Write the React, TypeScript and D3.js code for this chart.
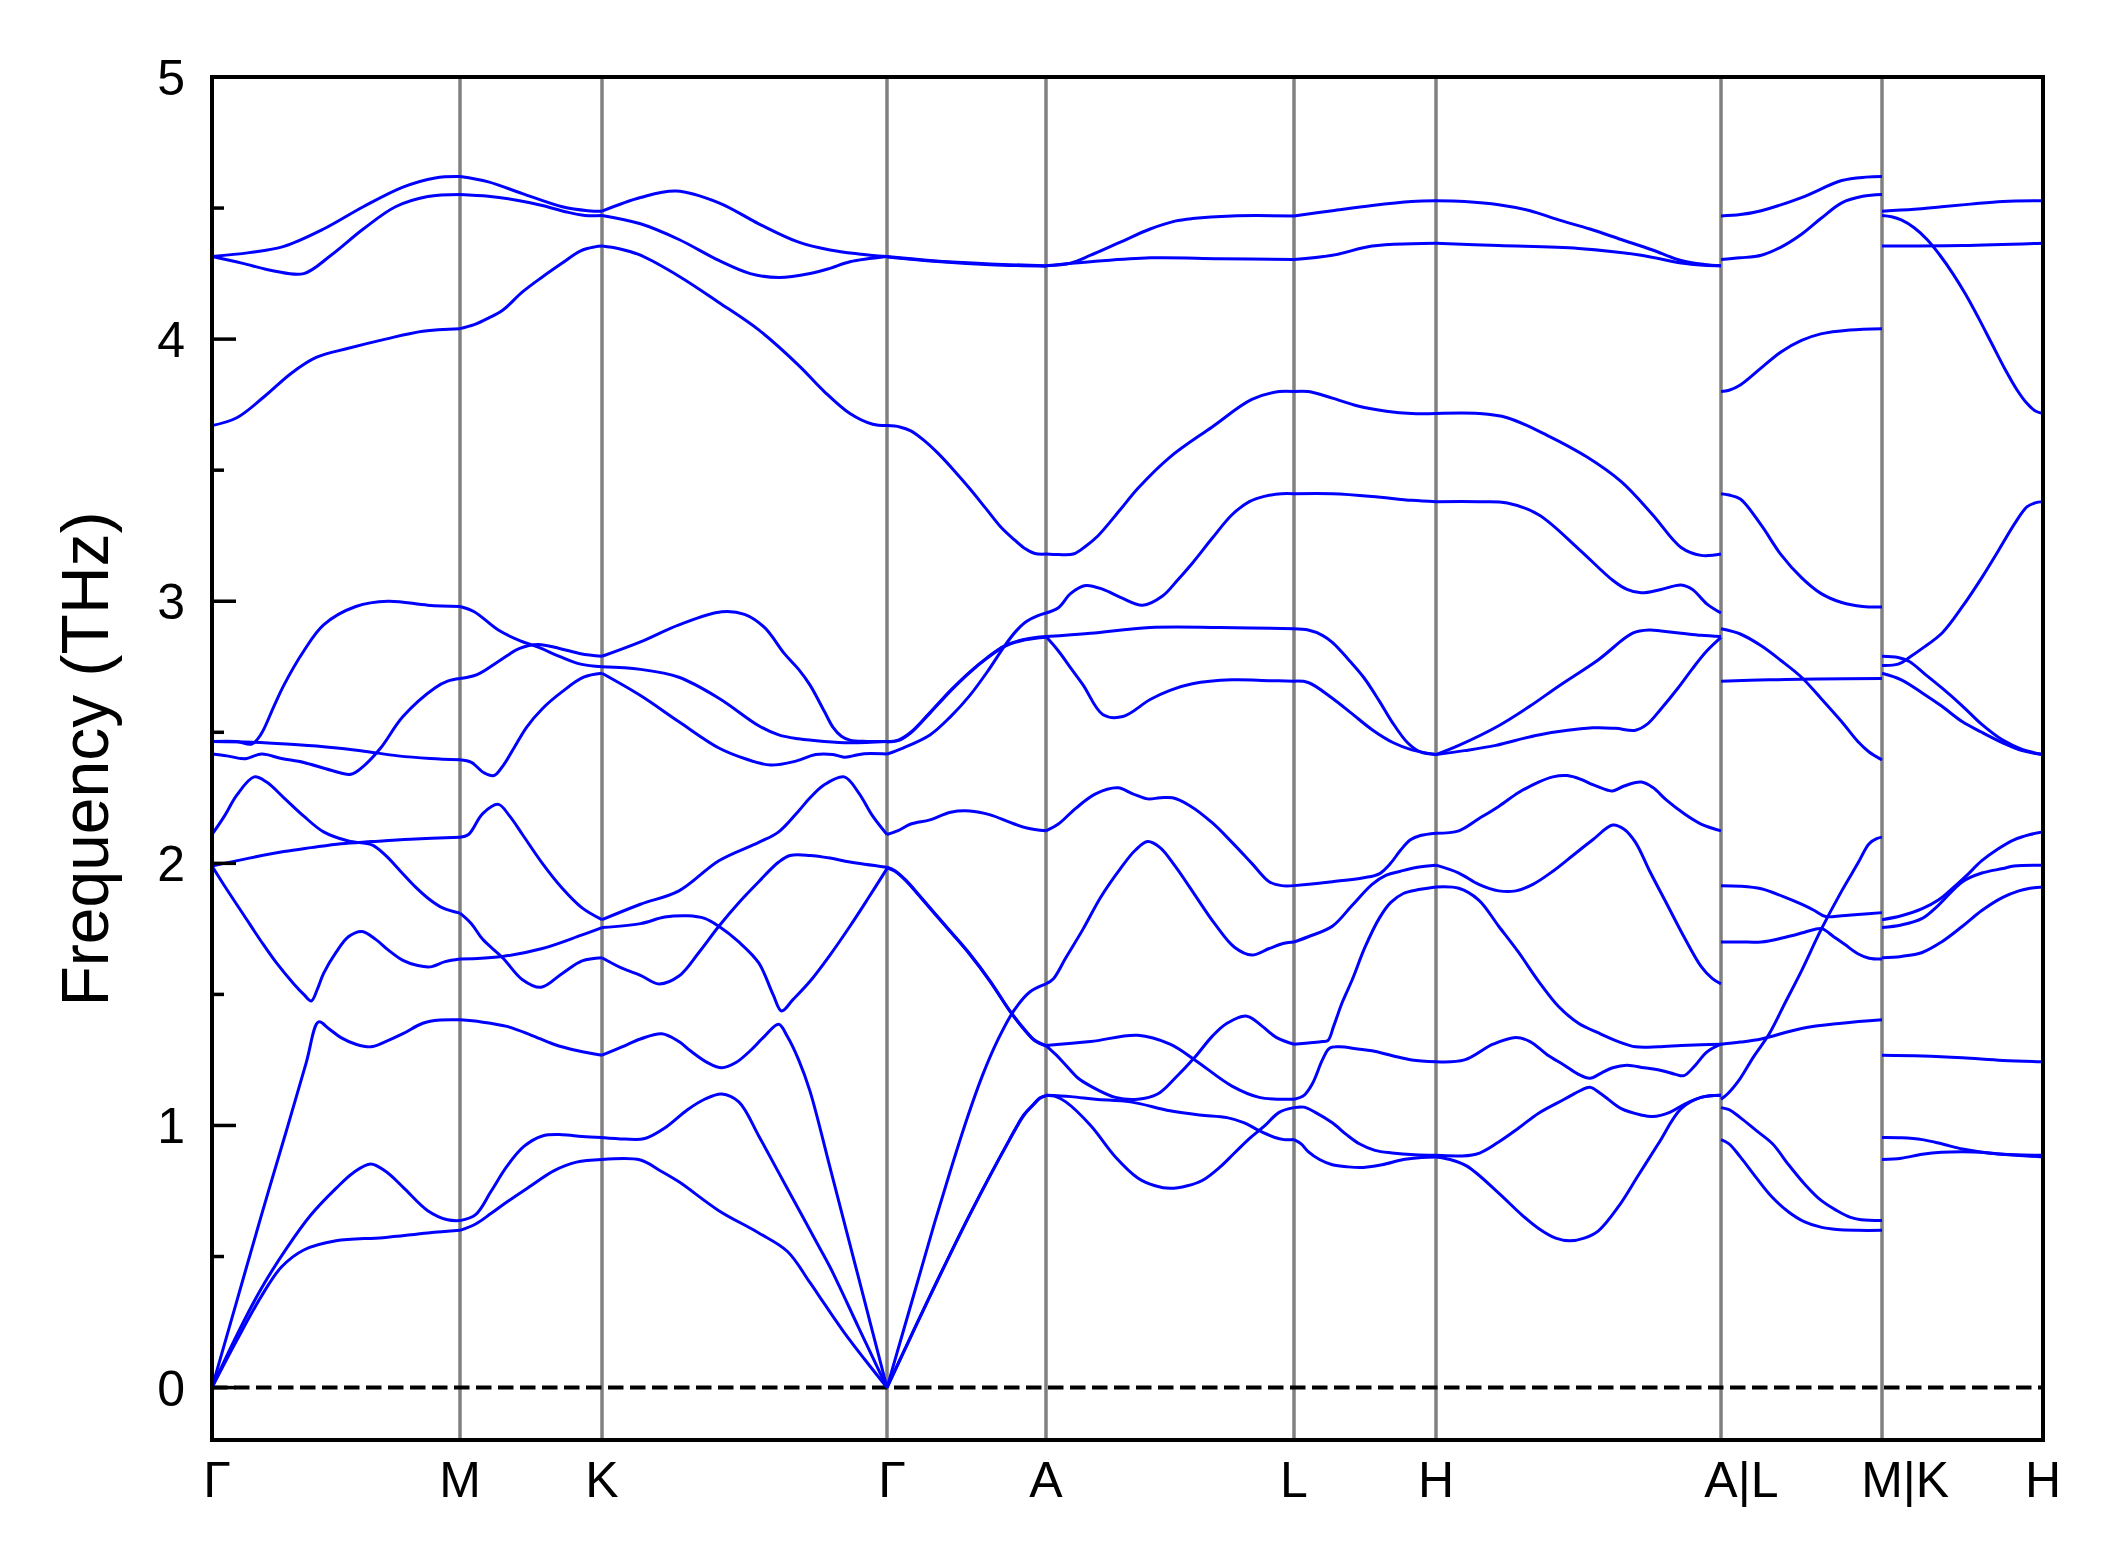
import React from 'react';
import * as d3 from 'd3';

type Pt = [number, number];

const W = 2120;
const H = 1567;
const kLabels = ['Γ', 'M', 'K', 'Γ', 'A', 'L', 'H', 'A|L', 'M|K', 'H'];
const kTicks = [0, 248, 390, 675, 834, 1082, 1224, 1509, 1670, 1831];
const yMajor = [0, 1, 2, 3, 4, 5];
const yMinor = [0.5, 1.5, 2.5, 3.5, 4.5];

// Γ → M
const bandsGM: Pt[][] = [
  [[0, 4.315], [0.15, 4.33], [0.29, 4.354], [0.45, 4.42], [0.61, 4.505], [0.77, 4.58], [0.9, 4.615], [1, 4.62]],
  [[0, 4.315], [0.12, 4.29], [0.25, 4.26], [0.37, 4.25], [0.48, 4.32], [0.61, 4.42], [0.74, 4.505], [0.87, 4.544], [1, 4.552]],
  [[0, 3.67], [0.1, 3.7], [0.21, 3.78], [0.32, 3.87], [0.42, 3.93], [0.55, 3.965], [0.7, 4.0], [0.85, 4.03], [1, 4.04]],
  [[0, 2.465], [0.1, 2.465], [0.16, 2.455], [0.196, 2.49], [0.25, 2.6], [0.29, 2.68], [0.37, 2.81], [0.45, 2.91], [0.58, 2.98], [0.71, 3.0], [0.87, 2.985], [1, 2.98]],
  [[0, 2.465], [0.16, 2.462], [0.3, 2.455], [0.45, 2.445], [0.6, 2.43], [0.75, 2.41], [0.88, 2.4], [1, 2.395]],
  [[0, 2.417], [0.06, 2.41], [0.116, 2.4], [0.14, 2.4], [0.2, 2.417], [0.28, 2.4], [0.37, 2.385], [0.48, 2.355], [0.56, 2.34], [0.61, 2.37], [0.68, 2.44], [0.77, 2.56], [0.9, 2.67], [0.95, 2.695], [1, 2.705]],
  [[0, 2.11], [0.05, 2.18], [0.1, 2.26], [0.17, 2.33], [0.22, 2.31], [0.29, 2.25], [0.37, 2.18], [0.45, 2.12], [0.55, 2.085], [0.645, 2.07], [0.7, 2.03], [0.76, 1.97], [0.82, 1.91], [0.88, 1.86], [0.93, 1.83], [1, 1.81]],
  [[0, 1.99], [0.15, 2.02], [0.29, 2.045], [0.4, 2.06], [0.52, 2.075], [0.645, 2.083], [0.8, 2.092], [1, 2.1]],
  [[0, 1.99], [0.06, 1.9], [0.13, 1.8], [0.2, 1.7], [0.26, 1.62], [0.33, 1.54], [0.37, 1.5], [0.4, 1.475], [0.425, 1.52], [0.45, 1.58], [0.5, 1.66], [0.55, 1.72], [0.605, 1.74], [0.66, 1.71], [0.71, 1.67], [0.77, 1.63], [0.83, 1.61], [0.88, 1.605], [0.94, 1.625], [1, 1.635]],
  [[0, 0], [0.1, 0.33], [0.2, 0.66], [0.3, 0.98], [0.38, 1.24], [0.43, 1.395], [0.47, 1.37], [0.52, 1.335], [0.58, 1.31], [0.64, 1.3], [0.7, 1.32], [0.77, 1.35], [0.85, 1.39], [0.92, 1.402], [1, 1.403]],
  [[0, 0], [0.1, 0.2], [0.2, 0.38], [0.3, 0.53], [0.4, 0.66], [0.5, 0.76], [0.57, 0.82], [0.64, 0.853], [0.7, 0.825], [0.77, 0.765], [0.87, 0.675], [0.95, 0.64], [1, 0.637]],
  [[0, 0], [0.1, 0.18], [0.2, 0.35], [0.28, 0.46], [0.37, 0.525], [0.5, 0.56], [0.69, 0.572], [0.87, 0.59], [1, 0.6]],
];

// M → K
const bandsMK: Pt[][] = [
  [[0, 4.62], [0.2, 4.6], [0.44, 4.555], [0.72, 4.505], [0.9, 4.49], [1, 4.488]],
  [[0, 4.552], [0.2, 4.545], [0.4, 4.53], [0.58, 4.51], [0.75, 4.485], [0.88, 4.472], [1, 4.472]],
  [[0, 4.04], [0.1, 4.055], [0.2, 4.08], [0.3, 4.11], [0.44, 4.18], [0.58, 4.237], [0.72, 4.29], [0.85, 4.337], [0.95, 4.352], [1, 4.355]],
  [[0, 2.98], [0.1, 2.96], [0.27, 2.89], [0.42, 2.85], [0.55, 2.825], [0.7, 2.79], [0.85, 2.76], [1, 2.75]],
  [[0, 2.705], [0.12, 2.72], [0.27, 2.77], [0.42, 2.82], [0.55, 2.835], [0.7, 2.82], [0.85, 2.8], [1, 2.79]],
  [[0, 2.395], [0.08, 2.385], [0.17, 2.345], [0.24, 2.335], [0.3, 2.37], [0.38, 2.44], [0.47, 2.52], [0.58, 2.59], [0.72, 2.655], [0.87, 2.71], [1, 2.725]],
  [[0, 2.1], [0.06, 2.11], [0.16, 2.19], [0.27, 2.225], [0.35, 2.18], [0.44, 2.11], [0.58, 2.0], [0.72, 1.905], [0.86, 1.83], [1, 1.785]],
  [[0, 1.81], [0.08, 1.77], [0.16, 1.71], [0.3, 1.64], [0.44, 1.556], [0.57, 1.527], [0.72, 1.58], [0.86, 1.628], [1, 1.64]],
  [[0, 1.635], [0.3, 1.645], [0.58, 1.675], [0.85, 1.725], [1, 1.755]],
  [[0, 1.403], [0.15, 1.395], [0.33, 1.378], [0.5, 1.345], [0.66, 1.31], [0.83, 1.285], [1, 1.268]],
  [[0, 0.637], [0.11, 0.66], [0.22, 0.75], [0.33, 0.844], [0.45, 0.92], [0.58, 0.96], [0.72, 0.965], [0.86, 0.958], [1, 0.954]],
  [[0, 0.6], [0.11, 0.624], [0.22, 0.665], [0.33, 0.708], [0.5, 0.77], [0.66, 0.827], [0.82, 0.86], [1, 0.87]],
];

// K → Γ
const bandsKG: Pt[][] = [
  [[0, 4.488], [0.135, 4.54], [0.26, 4.565], [0.41, 4.52], [0.55, 4.44], [0.69, 4.37], [0.8, 4.34], [0.9, 4.325], [1, 4.315]],
  [[0, 4.472], [0.135, 4.44], [0.27, 4.38], [0.41, 4.3], [0.52, 4.25], [0.62, 4.235], [0.73, 4.25], [0.8, 4.27], [0.87, 4.295], [1, 4.315]],
  [[0, 4.355], [0.06, 4.345], [0.135, 4.32], [0.27, 4.24], [0.41, 4.14], [0.55, 4.035], [0.69, 3.9], [0.78, 3.8], [0.87, 3.716], [0.95, 3.675], [1, 3.67]],
  [[0, 2.79], [0.135, 2.845], [0.27, 2.91], [0.42, 2.96], [0.5, 2.95], [0.57, 2.9], [0.64, 2.8], [0.69, 2.74], [0.73, 2.68], [0.78, 2.58], [0.81, 2.52], [0.84, 2.485], [0.87, 2.47], [0.93, 2.465], [1, 2.465]],
  [[0, 2.75], [0.135, 2.74], [0.27, 2.71], [0.41, 2.63], [0.55, 2.525], [0.62, 2.49], [0.69, 2.475], [0.78, 2.465], [0.87, 2.46], [1, 2.465]],
  [[0, 2.725], [0.135, 2.64], [0.27, 2.54], [0.41, 2.44], [0.5, 2.4], [0.59, 2.375], [0.68, 2.39], [0.75, 2.415], [0.81, 2.415], [0.85, 2.405], [0.88, 2.41], [0.92, 2.418], [1, 2.417]],
  [[0, 1.785], [0.135, 1.844], [0.27, 1.895], [0.41, 2.01], [0.55, 2.08], [0.62, 2.12], [0.69, 2.2], [0.73, 2.25], [0.78, 2.3], [0.85, 2.33], [0.9, 2.27], [0.95, 2.18], [1, 2.11]],
  [[0, 1.755], [0.135, 1.77], [0.22, 1.795], [0.3, 1.8], [0.36, 1.79], [0.41, 1.76], [0.48, 1.7], [0.55, 1.62], [0.6, 1.5], [0.63, 1.437], [0.67, 1.48], [0.73, 1.55], [0.8, 1.65], [0.87, 1.76], [0.93, 1.86], [1, 1.98]],
  [[0, 1.64], [0.07, 1.6], [0.135, 1.573], [0.2, 1.54], [0.27, 1.57], [0.34, 1.66], [0.41, 1.76], [0.48, 1.85], [0.55, 1.93], [0.62, 2.005], [0.66, 2.03], [0.73, 2.03], [0.8, 2.02], [0.87, 2.005], [1, 1.985]],
  [[0, 1.268], [0.07, 1.3], [0.135, 1.33], [0.21, 1.35], [0.27, 1.32], [0.31, 1.285], [0.37, 1.24], [0.42, 1.22], [0.47, 1.24], [0.52, 1.285], [0.57, 1.34], [0.62, 1.386], [0.65, 1.34], [0.69, 1.25], [0.73, 1.13], [0.8, 0.84], [0.9, 0.42], [1, 0]],
  [[0, 0.954], [0.08, 0.948], [0.15, 0.95], [0.22, 0.99], [0.3, 1.06], [0.36, 1.1], [0.42, 1.12], [0.48, 1.09], [0.55, 0.96], [0.62, 0.82], [0.69, 0.68], [0.75, 0.56], [0.8, 0.46], [0.9, 0.23], [1, 0]],
  [[0, 0.87], [0.135, 0.868], [0.2, 0.83], [0.27, 0.785], [0.41, 0.675], [0.55, 0.59], [0.65, 0.52], [0.73, 0.4], [0.78, 0.32], [0.85, 0.21], [0.92, 0.11], [1, 0]],
];

// Γ → A
const bandsGA: Pt[][] = [
  [[0, 4.315], [0.27, 4.3], [0.65, 4.287], [1, 4.28]],
  [[0, 4.313], [0.27, 4.298], [0.65, 4.284], [1, 4.278]],
  [[0, 3.67], [0.08, 3.665], [0.15, 3.65], [0.24, 3.61], [0.32, 3.565], [0.42, 3.5], [0.52, 3.43], [0.62, 3.355], [0.72, 3.28], [0.8, 3.235], [0.87, 3.2], [0.93, 3.182], [1, 3.18]],
  [[0, 2.465], [0.07, 2.47], [0.15, 2.5], [0.27, 2.575], [0.4, 2.66], [0.52, 2.73], [0.63, 2.785], [0.74, 2.83], [0.87, 2.855], [1, 2.865]],
  [[0, 2.463], [0.07, 2.468], [0.15, 2.498], [0.27, 2.573], [0.4, 2.658], [0.52, 2.728], [0.63, 2.783], [0.74, 2.828], [0.87, 2.853], [1, 2.863]],
  [[0, 2.417], [0.1, 2.44], [0.27, 2.49], [0.4, 2.56], [0.52, 2.64], [0.63, 2.73], [0.74, 2.83], [0.81, 2.885], [0.87, 2.92], [0.95, 2.945], [1, 2.955]],
  [[0, 2.11], [0.07, 2.125], [0.15, 2.15], [0.27, 2.166], [0.4, 2.195], [0.52, 2.2], [0.65, 2.185], [0.77, 2.157], [0.88, 2.135], [1, 2.124]],
  [[0, 1.985], [0.05, 1.972], [0.12, 1.935], [0.2, 1.88], [0.3, 1.81], [0.4, 1.74], [0.52, 1.655], [0.65, 1.55], [0.77, 1.44], [0.86, 1.37], [0.93, 1.325], [1, 1.305]],
  [[0, 1.983], [0.05, 1.97], [0.12, 1.933], [0.2, 1.878], [0.3, 1.808], [0.4, 1.738], [0.52, 1.653], [0.65, 1.548], [0.77, 1.438], [0.86, 1.368], [0.93, 1.323], [1, 1.303]],
  [[0, 0], [0.1, 0.21], [0.2, 0.42], [0.3, 0.63], [0.4, 0.83], [0.5, 1.02], [0.6, 1.19], [0.7, 1.33], [0.8, 1.44], [0.9, 1.51], [1, 1.54]],
  [[0, 0], [0.13, 0.17], [0.27, 0.35], [0.52, 0.66], [0.77, 0.946], [0.86, 1.04], [0.92, 1.08], [0.96, 1.105], [1, 1.115]],
  [[0, 0], [0.13, 0.168], [0.27, 0.348], [0.52, 0.658], [0.77, 0.944], [0.86, 1.038], [0.92, 1.078], [0.96, 1.103], [1, 1.113]],
];

// A → L
const bandsAL: Pt[][] = [
  [[0, 4.28], [0.1, 4.29], [0.18, 4.32], [0.3, 4.37], [0.42, 4.42], [0.52, 4.45], [0.59, 4.46], [0.75, 4.47], [1, 4.47]],
  [[0, 4.28], [0.18, 4.295], [0.42, 4.31], [0.7, 4.307], [1, 4.304]],
  [[0, 3.18], [0.05, 3.178], [0.11, 3.18], [0.16, 3.21], [0.21, 3.25], [0.3, 3.35], [0.37, 3.43], [0.5, 3.55], [0.67, 3.665], [0.83, 3.77], [0.94, 3.8], [1, 3.8]],
  [[0, 2.955], [0.05, 2.975], [0.1, 3.03], [0.16, 3.06], [0.23, 3.045], [0.3, 3.015], [0.39, 2.985], [0.47, 3.02], [0.53, 3.08], [0.59, 3.145], [0.67, 3.24], [0.75, 3.33], [0.82, 3.38], [0.88, 3.4], [0.95, 3.41], [1, 3.41]],
  [[0, 2.865], [0.18, 2.878], [0.42, 2.9], [0.7, 2.9], [1, 2.895]],
  [[0, 2.865], [0.05, 2.81], [0.1, 2.745], [0.15, 2.68], [0.23, 2.567], [0.31, 2.56], [0.42, 2.625], [0.5, 2.66], [0.59, 2.685], [0.75, 2.7], [0.9, 2.697], [1, 2.695]],
  [[0, 2.124], [0.05, 2.15], [0.12, 2.21], [0.2, 2.265], [0.29, 2.288], [0.35, 2.265], [0.41, 2.246], [0.46, 2.25], [0.51, 2.25], [0.58, 2.22], [0.67, 2.155], [0.75, 2.08], [0.83, 2.0], [0.9, 1.93], [0.95, 1.915], [1, 1.915]],
  [[0, 1.54], [0.03, 1.56], [0.08, 1.64], [0.15, 1.75], [0.22, 1.87], [0.3, 1.98], [0.36, 2.05], [0.41, 2.083], [0.46, 2.06], [0.52, 1.99], [0.6, 1.88], [0.68, 1.77], [0.76, 1.68], [0.83, 1.65], [0.9, 1.675], [0.96, 1.695], [1, 1.7]],
  [[0, 1.305], [0.18, 1.32], [0.37, 1.344], [0.5, 1.31], [0.6, 1.25], [0.75, 1.15], [0.86, 1.107], [0.95, 1.1], [1, 1.1]],
  [[0, 1.305], [0.04, 1.27], [0.08, 1.23], [0.13, 1.18], [0.18, 1.15], [0.28, 1.107], [0.37, 1.1], [0.45, 1.12], [0.52, 1.18], [0.6, 1.26], [0.67, 1.34], [0.73, 1.39], [0.81, 1.417], [0.87, 1.38], [0.93, 1.335], [1, 1.31]],
  [[0, 1.115], [0.1, 1.11], [0.2, 1.1], [0.34, 1.09], [0.5, 1.056], [0.62, 1.04], [0.73, 1.03], [0.8, 1.01], [0.86, 0.98], [0.92, 0.955], [0.96, 0.946], [1, 0.946]],
  [[0, 1.115], [0.04, 1.11], [0.08, 1.09], [0.18, 1.0], [0.28, 0.88], [0.37, 0.8], [0.44, 0.77], [0.5, 0.76], [0.57, 0.77], [0.63, 0.79], [0.7, 0.84], [0.76, 0.895], [0.82, 0.95], [0.88, 0.997], [0.94, 1.05], [1, 1.068]],
];

// L → H
const bandsLH: Pt[][] = [
  [[0, 4.47], [0.27, 4.49], [0.55, 4.51], [0.83, 4.525], [1, 4.528]],
  [[0, 4.304], [0.27, 4.32], [0.55, 4.355], [0.83, 4.364], [1, 4.366]],
  [[0, 3.8], [0.1, 3.8], [0.27, 3.775], [0.45, 3.745], [0.65, 3.725], [0.83, 3.716], [1, 3.716]],
  [[0, 3.41], [0.27, 3.41], [0.55, 3.4], [0.83, 3.385], [1, 3.38]],
  [[0, 2.895], [0.1, 2.89], [0.2, 2.87], [0.27, 2.843], [0.38, 2.78], [0.49, 2.71], [0.6, 2.62], [0.69, 2.54], [0.8, 2.46], [0.89, 2.425], [1, 2.415]],
  [[0, 2.695], [0.1, 2.69], [0.27, 2.63], [0.41, 2.57], [0.55, 2.51], [0.7, 2.46], [0.83, 2.433], [1, 2.415]],
  [[0, 1.915], [0.27, 1.93], [0.49, 1.945], [0.6, 1.96], [0.68, 2.0], [0.75, 2.05], [0.82, 2.09], [0.89, 2.106], [1, 2.115]],
  [[0, 1.7], [0.1, 1.72], [0.27, 1.76], [0.41, 1.84], [0.55, 1.92], [0.65, 1.955], [0.75, 1.97], [0.87, 1.985], [1, 1.993]],
  [[0, 1.31], [0.1, 1.315], [0.2, 1.32], [0.24, 1.325], [0.28, 1.38], [0.34, 1.47], [0.41, 1.556], [0.5, 1.68], [0.6, 1.79], [0.68, 1.85], [0.77, 1.885], [0.88, 1.9], [1, 1.91]],
  [[0, 1.1], [0.07, 1.115], [0.13, 1.16], [0.2, 1.25], [0.25, 1.295], [0.32, 1.3], [0.45, 1.292], [0.55, 1.285], [0.7, 1.265], [0.83, 1.25], [1, 1.243]],
  [[0, 1.068], [0.07, 1.07], [0.15, 1.05], [0.27, 1.01], [0.37, 0.965], [0.46, 0.93], [0.57, 0.905], [0.69, 0.895], [0.85, 0.888], [1, 0.886]],
  [[0, 0.946], [0.05, 0.93], [0.1, 0.9], [0.18, 0.87], [0.27, 0.85], [0.38, 0.842], [0.49, 0.84], [0.62, 0.85], [0.77, 0.87], [0.9, 0.878], [1, 0.88]],
];

// H → A
const bandsHA: Pt[][] = [
  [[0, 4.528], [0.1, 4.525], [0.22, 4.513], [0.33, 4.49], [0.43, 4.455], [0.54, 4.42], [0.65, 4.38], [0.76, 4.34], [0.86, 4.3], [0.94, 4.285], [1, 4.28]],
  [[0, 4.366], [0.22, 4.357], [0.5, 4.346], [0.72, 4.32], [0.86, 4.29], [0.94, 4.282], [1, 4.28]],
  [[0, 3.716], [0.15, 3.716], [0.25, 3.7], [0.39, 3.633], [0.53, 3.55], [0.65, 3.456], [0.76, 3.33], [0.86, 3.205], [0.93, 3.175], [1, 3.18]],
  [[0, 3.38], [0.15, 3.38], [0.25, 3.375], [0.36, 3.33], [0.5, 3.2], [0.62, 3.08], [0.67, 3.045], [0.72, 3.032], [0.79, 3.045], [0.86, 3.062], [0.9, 3.045], [0.95, 2.99], [1, 2.955]],
  [[0, 2.415], [0.08, 2.45], [0.22, 2.525], [0.33, 2.6], [0.43, 2.676], [0.57, 2.777], [0.69, 2.878], [0.75, 2.89], [0.79, 2.886], [0.86, 2.878], [0.93, 2.87], [1, 2.865]],
  [[0, 2.415], [0.1, 2.43], [0.21, 2.45], [0.36, 2.49], [0.55, 2.517], [0.63, 2.515], [0.7, 2.508], [0.74, 2.53], [0.79, 2.59], [0.85, 2.67], [0.9, 2.743], [0.95, 2.81], [1, 2.862]],
  [[0, 2.115], [0.08, 2.124], [0.15, 2.17], [0.22, 2.217], [0.29, 2.27], [0.36, 2.31], [0.41, 2.33], [0.46, 2.335], [0.51, 2.32], [0.55, 2.3], [0.6, 2.28], [0.62, 2.276], [0.66, 2.295], [0.72, 2.31], [0.76, 2.29], [0.81, 2.24], [0.87, 2.19], [0.93, 2.15], [1, 2.124]],
  [[0, 1.993], [0.08, 1.963], [0.15, 1.92], [0.22, 1.895], [0.28, 1.895], [0.34, 1.92], [0.41, 1.97], [0.48, 2.03], [0.55, 2.09], [0.62, 2.146], [0.66, 2.13], [0.7, 2.08], [0.75, 1.97], [0.81, 1.845], [0.87, 1.72], [0.93, 1.607], [0.97, 1.56], [1, 1.54]],
  [[0, 1.91], [0.08, 1.905], [0.15, 1.86], [0.22, 1.76], [0.29, 1.66], [0.36, 1.55], [0.43, 1.454], [0.5, 1.39], [0.57, 1.353], [0.64, 1.32], [0.7, 1.3], [0.78, 1.3], [0.86, 1.305], [0.93, 1.308], [1, 1.31]],
  [[0, 1.243], [0.1, 1.25], [0.2, 1.31], [0.28, 1.336], [0.33, 1.32], [0.39, 1.27], [0.45, 1.23], [0.5, 1.195], [0.54, 1.18], [0.58, 1.2], [0.62, 1.22], [0.67, 1.23], [0.73, 1.22], [0.79, 1.21], [0.84, 1.195], [0.87, 1.19], [0.91, 1.23], [0.95, 1.28], [1, 1.31]],
  [[0, 0.886], [0.14, 0.89], [0.22, 0.937], [0.29, 0.99], [0.36, 1.047], [0.45, 1.1], [0.51, 1.135], [0.54, 1.146], [0.58, 1.12], [0.65, 1.064], [0.72, 1.04], [0.76, 1.034], [0.82, 1.05], [0.87, 1.08], [0.93, 1.107], [1, 1.115]],
  [[0, 0.88], [0.05, 0.87], [0.11, 0.844], [0.22, 0.742], [0.3, 0.66], [0.36, 0.607], [0.42, 0.57], [0.47, 0.56], [0.52, 0.57], [0.57, 0.598], [0.64, 0.69], [0.71, 0.81], [0.78, 0.93], [0.86, 1.064], [0.93, 1.107], [1, 1.115]],
];

// L → M
const bandsLM: Pt[][] = [
  [[0, 4.47], [0.12, 4.475], [0.25, 4.49], [0.5, 4.54], [0.75, 4.605], [0.9, 4.618], [1, 4.62]],
  [[0, 4.304], [0.12, 4.31], [0.25, 4.32], [0.37, 4.35], [0.5, 4.4], [0.62, 4.46], [0.75, 4.52], [0.88, 4.545], [1, 4.552]],
  [[0, 3.8], [0.05, 3.805], [0.12, 3.825], [0.25, 3.89], [0.37, 3.95], [0.5, 3.995], [0.62, 4.02], [0.8, 4.035], [1, 4.04]],
  [[0, 3.41], [0.05, 3.405], [0.12, 3.39], [0.25, 3.29], [0.37, 3.18], [0.5, 3.09], [0.62, 3.03], [0.75, 2.995], [0.88, 2.98], [1, 2.978]],
  [[0, 2.895], [0.12, 2.875], [0.25, 2.83], [0.37, 2.775], [0.5, 2.71], [0.62, 2.63], [0.75, 2.54], [0.85, 2.465], [0.92, 2.425], [1, 2.395]],
  [[0, 2.695], [0.3, 2.7], [0.6, 2.703], [1, 2.705]],
  [[0, 1.915], [0.12, 1.913], [0.25, 1.903], [0.38, 1.875], [0.5, 1.844], [0.58, 1.82], [0.65, 1.797], [0.75, 1.8], [0.85, 1.805], [1, 1.812]],
  [[0, 1.7], [0.12, 1.7], [0.25, 1.7], [0.38, 1.715], [0.5, 1.734], [0.58, 1.748], [0.63, 1.75], [0.7, 1.72], [0.77, 1.69], [0.85, 1.655], [0.92, 1.638], [1, 1.635]],
  [[0, 1.31], [0.12, 1.318], [0.25, 1.33], [0.5, 1.37], [0.75, 1.39], [1, 1.403]],
  [[0, 1.1], [0.04, 1.12], [0.12, 1.18], [0.2, 1.26], [0.3, 1.35], [0.4, 1.47], [0.5, 1.59], [0.62, 1.745], [0.75, 1.895], [0.85, 2.0], [0.92, 2.075], [0.97, 2.095], [1, 2.1]],
  [[0, 1.068], [0.05, 1.06], [0.12, 1.03], [0.22, 0.98], [0.32, 0.93], [0.42, 0.85], [0.52, 0.776], [0.62, 0.715], [0.72, 0.675], [0.8, 0.65], [0.87, 0.64], [1, 0.637]],
  [[0, 0.946], [0.05, 0.93], [0.12, 0.88], [0.22, 0.8], [0.32, 0.725], [0.42, 0.67], [0.52, 0.632], [0.62, 0.612], [0.72, 0.603], [0.85, 0.6], [1, 0.6]],
];

// K → H
const bandsKH: Pt[][] = [
  [[0, 4.488], [0.2, 4.495], [0.37, 4.505], [0.55, 4.515], [0.75, 4.525], [1, 4.528]],
  [[0, 4.472], [0.06, 4.467], [0.12, 4.455], [0.2, 4.425], [0.28, 4.38], [0.36, 4.32], [0.44, 4.25], [0.52, 4.17], [0.6, 4.08], [0.68, 3.985], [0.76, 3.89], [0.84, 3.805], [0.9, 3.755], [0.95, 3.727], [1, 3.716]],
  [[0, 4.355], [0.5, 4.357], [1, 4.366]],
  [[0, 2.755], [0.1, 2.76], [0.18, 2.79], [0.25, 2.82], [0.375, 2.88], [0.5, 2.98], [0.625, 3.095], [0.72, 3.19], [0.825, 3.297], [0.9, 3.36], [0.95, 3.375], [1, 3.38]],
  [[0, 2.79], [0.1, 2.785], [0.17, 2.77], [0.27, 2.72], [0.37, 2.67], [0.5, 2.6], [0.62, 2.53], [0.75, 2.47], [0.87, 2.435], [1, 2.415]],
  [[0, 2.725], [0.12, 2.7], [0.25, 2.65], [0.37, 2.6], [0.5, 2.54], [0.62, 2.5], [0.75, 2.46], [0.87, 2.43], [1, 2.415]],
  [[0, 1.785], [0.12, 1.8], [0.25, 1.827], [0.35, 1.86], [0.42, 1.895], [0.52, 1.95], [0.62, 2.01], [0.72, 2.055], [0.82, 2.09], [0.92, 2.11], [1, 2.12]],
  [[0, 1.755], [0.12, 1.765], [0.25, 1.79], [0.35, 1.84], [0.5, 1.93], [0.62, 1.963], [0.75, 1.98], [0.82, 1.99], [1, 1.993]],
  [[0, 1.64], [0.12, 1.645], [0.25, 1.66], [0.37, 1.7], [0.5, 1.76], [0.62, 1.82], [0.75, 1.87], [0.85, 1.895], [0.92, 1.905], [1, 1.91]],
  [[0, 1.268], [0.25, 1.265], [0.5, 1.258], [0.75, 1.248], [1, 1.243]],
  [[0, 0.954], [0.12, 0.953], [0.25, 0.946], [0.37, 0.93], [0.5, 0.91], [0.62, 0.898], [0.75, 0.89], [1, 0.886]],
  [[0, 0.87], [0.12, 0.875], [0.25, 0.89], [0.37, 0.898], [0.5, 0.9], [0.62, 0.898], [0.75, 0.89], [1, 0.88]],
];

const segments: Pt[][][] = [bandsGM, bandsMK, bandsKG, bandsGA, bandsAL, bandsLH, bandsHA, bandsLM, bandsKH];

const FONT = '"Liberation Sans", Arial, Helvetica, sans-serif';

function measure(s: string, size: number): number {
  try {
    const ctx = document.createElement('canvas').getContext('2d');
    if (!ctx) return size * 0.65;
    ctx.font = `${size}px "Liberation Sans"`;
    return ctx.measureText(s).width;
  } catch (e) {
    return size * 0.65;
  }
}

export default function App() {
  const left = 212, right = 2043, top = 77, bottom = 1440;
  const x = d3.scaleLinear().domain([kTicks[0], kTicks[kTicks.length - 1]]).range([left, right]);
  const y = d3.scaleLinear().domain([-0.2, 5]).range([bottom, top]);
  const line = d3.line<Pt>().x((d) => x(d[0])).y((d) => y(d[1])).curve(d3.curveCatmullRom.alpha(0.5));

  const bandPaths: React.ReactNode[] = [];
  segments.forEach((seg, i) => {
    const k0 = kTicks[i];
    const k1 = kTicks[i + 1];
    seg.forEach((band, j) => {
      const pts: Pt[] = band.map(([t, f]) => [k0 + t * (k1 - k0), f]);
      bandPaths.push(
        <path key={`b${i}-${j}`} d={line(pts) || ''} fill="none" stroke="#0000ff" strokeWidth={3} strokeLinejoin="round" />
      );
    });
  });

  const labelSize = 50;

  return (
    <svg width={W} height={H} style={{ position: 'absolute', left: 0, top: 0, background: '#fff' }} xmlns="http://www.w3.org/2000/svg">
      <rect x={0} y={0} width={W} height={H} fill="#fff" />
      {kTicks.slice(1, -1).map((k, i) => (
        <line key={`g${i}`} x1={x(k)} x2={x(k)} y1={top} y2={bottom} stroke="#808080" strokeWidth={3.5} />
      ))}
      <line x1={left} x2={right} y1={y(0)} y2={y(0)} stroke="#000" strokeWidth={4} strokeDasharray="15.5 6.5" />
      {bandPaths}
      {yMajor.map((v) => (
        <line key={`ym${v}`} x1={left} x2={left + 24} y1={y(v)} y2={y(v)} stroke="#000" strokeWidth={3.5} />
      ))}
      {yMinor.map((v) => (
        <line key={`yn${v}`} x1={left} x2={left + 12} y1={y(v)} y2={y(v)} stroke="#000" strokeWidth={3.5} />
      ))}
      <rect x={left} y={top} width={right - left} height={bottom - top} fill="none" stroke="#000" strokeWidth={4} />
      {yMajor.map((v) => (
        <text key={`yl${v}`} x={185} y={y(v) + 18} textAnchor="end" fontFamily={FONT} fontSize={labelSize} fill="#000">
          {v}
        </text>
      ))}
      {kLabels.map((lab, i) => {
        const px = x(kTicks[i]);
        if (lab.includes('|')) {
          const w0 = measure(lab[0], labelSize);
          return (
            <text key={`xl${i}`} x={px - w0 / 2} y={1497} textAnchor="start" fontFamily={FONT} fontSize={labelSize} fill="#000">
              {lab}
            </text>
          );
        }
        return (
          <text key={`xl${i}`} x={px + (lab === 'Γ' ? 5 : 0)} y={1497} textAnchor="middle" fontFamily={FONT} fontSize={labelSize} fill="#000">
            {lab}
          </text>
        );
      })}
      <text x={108} y={759} transform="rotate(-90 108 759)" textAnchor="middle" fontFamily={FONT} fontSize={66} fill="#000">
        Frequency (THz)
      </text>
    </svg>
  );
}
